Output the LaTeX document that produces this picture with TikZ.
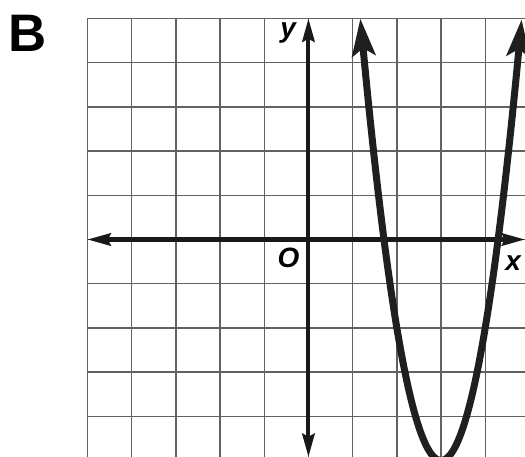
\documentclass[tikz,border=0pt]{standalone}
\usepackage{fontspec}
\setmainfont{Liberation Sans}
\usetikzlibrary{arrows.meta}
\begin{document}
\begin{tikzpicture}[
  gridline/.style={draw=black!62, line width=0.9pt},
  axis/.style={draw=black!90, line width=2.6pt, {Stealth[length=15pt,width=8pt,inset=2pt]}-{Stealth[length=15pt,width=8pt,inset=2pt]}},
  curve/.style={draw=black!88, line width=4.5pt, {Stealth[length=24pt,width=15pt,inset=5pt]}-{Stealth[length=24pt,width=15pt,inset=5pt]}},
  lbl/.style={font=\fontsize{18}{20}\selectfont\bfseries\itshape, inner sep=0pt}
]
\useasboundingbox[fill=white] (-6.98,-4.92) rectangle (4.9,5.42);
\draw[gridline] (-5,-4.92) grid (4.9,5);
\draw[axis] (-5,0) -- (4.9,0);
\draw[axis] (0,-4.92) -- (0,5);
\draw[curve] plot[domain=1.1743:4.8257, samples=120] (\x, {3*(\x-3)^2-5});
\node[lbl] (ylab) at (-0.46,4.67) {y};
\node[lbl] (olab) at (-0.45,-0.41) {O};
\node[lbl] (xlab) at (4.63,-0.53) {x};
\node[font=\fontsize{34}{36}\selectfont\bfseries, inner sep=0pt] (blab) at (-6.35,4.67) {B};
\end{tikzpicture}
\end{document}
